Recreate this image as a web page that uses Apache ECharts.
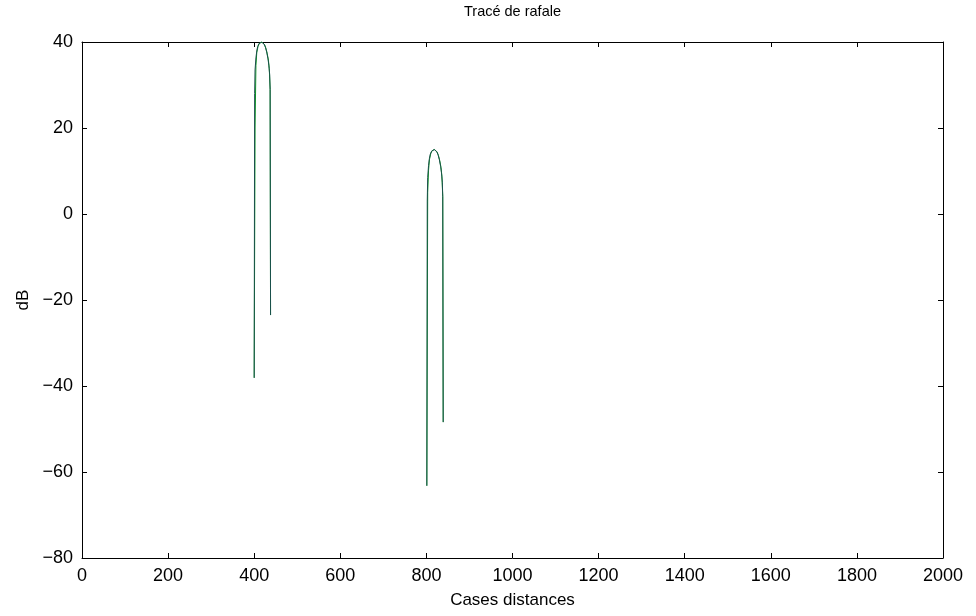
<!DOCTYPE html>
<html>
<head>
<meta charset="utf-8">
<script src="https://cdn.jsdelivr.net/npm/echarts@6/dist/echarts.min.js"></script>
<style>html,body{margin:0;padding:0;background:#fff;}#c{width:976px;height:616px;}</style>
</head>
<body>
<div id="c"></div>
<script>
var titleText = 'Tracé de rafale';
var xName = 'Cases distances';
var yName = 'dB';

// Peak 1 (main trace)
var p1x = [400, 401, 402, 404, 406, 408, 411, 414, 417, 420, 423, 426, 429, 432, 434, 436, 437, 438];
var p1y = [-38.1, 28, 33.5, 36.3, 37.9, 38.9, 39.6, 39.95, 40.0, 39.9, 39.5, 38.8, 37.7, 36.1, 34.6, 32.4, 29, -23.5];
// Peak 2 (main trace)
var p2x = [801, 802, 803, 805, 807, 809, 812, 815, 818, 821, 824, 827, 830, 833, 835, 837, 838, 839];
var p2y = [-63.2, 3, 8.5, 11.3, 12.9, 13.9, 14.6, 14.95, 15.0, 14.9, 14.5, 13.8, 12.7, 11.1, 9.6, 7.4, 4, -48.4];
// Green trace (slightly different sampling)
var g1x = [400, 402, 404, 406, 409, 412, 415, 418, 421, 424, 427, 430, 433, 435, 437, 438];
var g1y = [-38.1, 20, 34.5, 37.6, 39.0, 39.7, 39.95, 40.0, 39.85, 39.4, 38.6, 37.4, 35.8, 33.8, 29, -23.5];
var g2x = [801, 803, 805, 807, 810, 813, 816, 819, 822, 825, 828, 831, 834, 836, 838, 839];
var g2y = [-63.2, 5, 10.2, 12.6, 14.0, 14.7, 14.95, 15.0, 14.85, 14.4, 13.6, 12.4, 10.8, 8.8, 4, -48.4];

function pairs(xs, ys) { return xs.map(function (v, i) { return [v, ys[i]]; }); }
function fmt(v) { return String(v).replace('-', '\u2212'); }

var chart = echarts.init(document.getElementById('c'), null, {renderer: 'canvas'});
var font = 'Liberation Sans, Arial, Helvetica, sans-serif';
function axisCommon() {
  return {
    axisLine: {show: true, onZero: false, lineStyle: {color: '#000', width: 1}},
    axisTick: {show: true, inside: true, length: 5, lineStyle: {color: '#000'}},
    splitLine: {show: false}
  };
}
chart.setOption({
  animation: false,
  backgroundColor: '#fff',
  title: {
    text: titleText, left: 464, top: 4, padding: 0,
    textStyle: {fontFamily: font, fontSize: 14.5, fontWeight: 'normal', color: '#000'}
  },
  grid: {left: 82, right: 33, top: 42, bottom: 58, show: false},
  xAxis: [
    Object.assign(axisCommon(), {
      type: 'value', min: 0, max: 2000, interval: 200, position: 'bottom',
      name: xName, nameLocation: 'middle', nameGap: 34,
      nameTextStyle: {fontFamily: font, fontSize: 17, color: '#000'},
      axisLabel: {fontFamily: font, fontSize: 18, color: '#000', margin: 9, formatter: fmt}
    }),
    Object.assign(axisCommon(), {
      type: 'value', min: 0, max: 2000, interval: 200, position: 'top',
      axisLabel: {show: false}
    })
  ],
  yAxis: [
    Object.assign(axisCommon(), {
      type: 'value', min: -80, max: 40, interval: 20, position: 'left',
      name: yName, nameLocation: 'middle', nameGap: 50, nameRotate: 90,
      nameTextStyle: {fontFamily: font, fontSize: 17, color: '#000'},
      axisLabel: {fontFamily: font, fontSize: 18, color: '#000', margin: 9, formatter: fmt}
    }),
    Object.assign(axisCommon(), {
      type: 'value', min: -80, max: 40, interval: 20, position: 'right',
      axisLabel: {show: false}
    })
  ],
  series: [
    {type: 'line', data: pairs(g1x, g1y), showSymbol: false, lineStyle: {color: '#0b9a1f', width: 1}, z: 2},
    {type: 'line', data: pairs(g2x, g2y), showSymbol: false, lineStyle: {color: '#0b9a1f', width: 1}, z: 2},
    {type: 'line', data: pairs(p1x, p1y), showSymbol: false, lineStyle: {color: '#1a4f4c', width: 1}, z: 3},
    {type: 'line', data: pairs(p2x, p2y), showSymbol: false, lineStyle: {color: '#1a4f4c', width: 1}, z: 3}
  ]
});
</script>
</body>
</html>
